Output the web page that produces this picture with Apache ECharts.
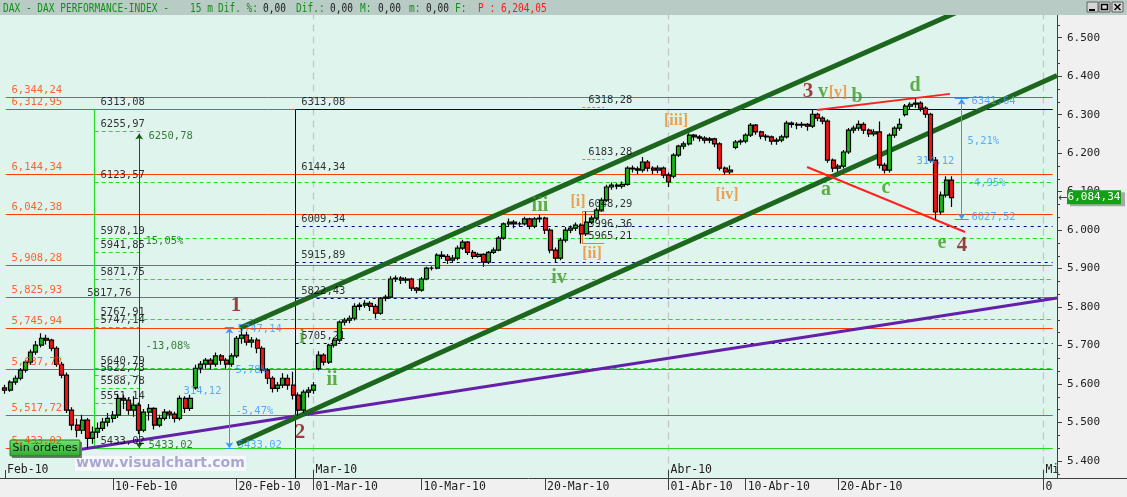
<!DOCTYPE html>
<html><head><meta charset="utf-8">
<script src="https://cdn.jsdelivr.net/npm/echarts@6/dist/echarts.min.js"></script>
<style>html,body{margin:0;padding:0;background:#f0f0f0;overflow:hidden}#c{width:1127px;height:497px}</style>
</head><body><div id="c"></div>
<script>
// ---------------- DATA ----------------
// 15-min DAX bars aggregated: 3 bars per trading day starting 01-Feb-10; [open, close, low, high]
const barsPerDay = 3;
const candles = [
[5590,5584,5575,5598],[5584,5605,5580,5610],[5605,5615,5598,5622],[5615,5636,5610,5642],[5636,5657,5630,5662],
[5657,5683,5650,5690],[5683,5701,5676,5712],[5701,5719,5695,5732],[5719,5714,5703,5728],[5714,5693,5685,5718],
[5693,5651,5645,5698],[5651,5623,5615,5658],[5623,5532,5525,5630],[5532,5493,5480,5540],[5493,5480,5462,5510],
[5480,5506,5470,5520],[5506,5459,5433,5512],[5459,5475,5445,5490],[5475,5485,5460,5500],[5485,5501,5478,5512],
[5501,5511,5490,5525],[5511,5519,5500,5530],[5519,5563,5512,5575],[5563,5558,5535,5572],[5558,5532,5520,5565],
[5532,5545,5515,5568],[5545,5480,5470,5552],[5480,5527,5475,5535],[5527,5537,5505,5548],[5537,5493,5482,5540],
[5493,5511,5488,5520],[5511,5527,5505,5535],[5527,5522,5510,5532],[5522,5511,5500,5528],[5511,5563,5505,5570],
[5563,5537,5525,5568],[5537,5563,5530,5572],[5590,5641,5585,5650],[5641,5652,5628,5660],[5652,5662,5640,5668],
[5662,5652,5638,5668],[5652,5673,5645,5682],[5673,5662,5650,5678],[5662,5652,5640,5668],[5652,5673,5645,5680],
[5673,5719,5668,5725],[5719,5727,5705,5747.14],[5727,5709,5700,5735],[5709,5714,5695,5722],[5714,5693,5680,5720],
[5693,5636,5628,5698],[5636,5615,5600,5642],[5615,5589,5578,5620],[5589,5597,5580,5605],[5597,5615,5590,5628],
[5615,5597,5585,5625],[5597,5571,5560,5632],[5571,5532,5517.72,5578],[5532,5579,5525,5585],[5579,5584,5565,5592],
[5584,5597,5575,5605],[5640,5675,5635,5685],[5675,5657,5648,5680],[5657,5701,5652,5705],[5701,5714,5695,5720],
[5714,5761,5708,5765],[5761,5766,5752,5772],[5766,5771,5758,5778],[5771,5802,5765,5810],[5802,5805,5792,5812],
[5805,5810,5798,5818],[5810,5802,5790,5815],[5802,5784,5770,5808],[5784,5823,5780,5826],[5823,5826,5815,5832],
[5826,5873,5822,5880],[5873,5875,5865,5882],[5875,5870,5860,5880],[5870,5873,5862,5878],[5873,5849,5842,5876],
[5849,5844,5836,5852],[5844,5873,5840,5878],[5873,5901,5870,5905],[5901,5901,5895,5906],[5901,5935,5898,5940],
[5935,5932,5925,5945],[5932,5922,5912,5938],[5922,5927,5915,5935],[5927,5953,5922,5960],[5953,5969,5948,5975],
[5969,5942,5935,5972],[5942,5932,5925,5948],[5932,5937,5928,5942],[5937,5917,5905,5940],[5917,5942,5912,5946],
[5942,5948,5938,5955],[5948,5979,5945,5985],[5979,6016,5975,6020],[6016,6021,6008,6030],[6021,6016,6005,6026],
[6016,6016,6008,6022],[6016,6029,6012,6035],[6029,6010,6002,6032],[6010,6029,6005,6034],[6029,6031,6020,6040],
[6031,6000,5990,6035],[6000,5948,5940,6005],[5948,5927,5915,5955],[5927,5974,5922,5980],[5974,6000,5968,6008],
[6000,6005,5992,6012],[6005,6013,5998,6020],[6013,5990,5965.21,6018],[5990,6021,5985,6048.29],[6021,6031,6015,6038],
[6031,6052,6025,6058],[6052,6078,6048,6084],[6078,6112,6074,6118],[6112,6117,6105,6124],[6117,6114,6106,6122],
[6114,6119,6108,6126],[6119,6161,6115,6166],[6161,6159,6150,6168],[6159,6156,6146,6165],[6156,6177,6150,6190],
[6177,6161,6152,6182],[6161,6156,6146,6166],[6156,6161,6148,6168],[6161,6143,6135,6165],[6143,6125,6112,6150],
[6140,6195,6135,6200],[6195,6218,6190,6222],[6218,6224,6210,6230],[6224,6247,6220,6252],[6247,6242,6232,6250],
[6242,6239,6230,6247],[6239,6234,6225,6244],[6234,6237,6226,6242],[6237,6224,6215,6240],[6224,6161,6155,6228],
[6161,6151,6144,6165],[6151,6156,6146,6168],[6215,6229,6210,6234],[6229,6231,6222,6236],[6231,6247,6226,6252],
[6247,6273,6242,6278],[6273,6255,6248,6276],[6255,6244,6236,6258],[6244,6242,6232,6250],[6242,6231,6222,6246],
[6231,6234,6222,6240],[6234,6242,6228,6248],[6242,6278,6238,6284],[6278,6275,6266,6282],[6275,6273,6262,6280],
[6273,6275,6266,6281],[6275,6270,6258,6278],[6270,6301,6265,6313.08],[6301,6291,6283,6305],[6291,6283,6275,6296],
[6283,6182,6175,6288],[6182,6161,6151,6186],[6161,6166,6152,6172],[6166,6203,6160,6208],[6203,6260,6198,6265],
[6260,6265,6252,6272],[6265,6275,6258,6285],[6275,6260,6250,6280],[6260,6250,6242,6264],[6250,6255,6244,6262],
[6255,6169,6160,6282],[6169,6156,6147,6175],[6156,6247,6150,6252],[6247,6265,6240,6270],[6265,6275,6258,6290],
[6300,6322,6295,6328],[6322,6327,6314,6332],[6327,6330,6318,6341.64],[6330,6317,6308,6335],[6317,6301,6292,6322],
[6301,6182,6175,6305],[6182,6047,6027.52,6190],[6047,6091,6040,6100],[6091,6130,6085,6140],[6130,6084.34,6060,6140]
];
const lastPrice = 6084.34;

// x axis = trading-day index from 01-Feb-10
const dayTicks = [7, 15, 20, 27, 35, 43, 48, 54, 67.3];
const dayTickLabels = ['10-Feb-10','20-Feb-10','01-Mar-10','10-Mar-10','20-Mar-10','01-Abr-10','10-Abr-10','20-Abr-10','0'];
const monthTicks = [0, 20, 43, 67.3];
const monthTickLabels = ['Feb-10','Mar-10','Abr-10','Mi'];

// horizontal levels
const orangeLevels = [6344.24, 6312.95, 6144.34, 6042.38, 5908.28, 5825.93, 5745.94, 5637.72, 5517.72, 5433.02];
const boxTop = 6313.08;
const boxLabels = [6313.08, 6144.34, 6009.34, 5915.89, 5822.43, 5705.21];
const boxDashed = [6009.34, 5915.89, 5822.43, 5705.21];
const greenTop = 6313.08;
const greenBase = 5433.02;
const greenFull = [6123.57, 5978.19, 5871.75, 5767.91, 5640.79];
const greenShort = [6255.97, 5941.85, 5747.14, 5622.73, 5588.78, 5551.14];
const leftLabels = [6313.08, 6255.97, 6123.57, 5978.19, 5941.85, 5871.75, 5767.91, 5747.14, 5640.79, 5622.73, 5588.78, 5551.14, 5433.02];
const leftExtraLabel = [5.3, 5817.76];
const fibLabels = [6318.28, 6183.28, 6048.29, 5996.36, 5965.21];
const fibDashed = [6318.28, 6183.28];
const fibBox = [5965.21, 6048.29];

// measurement bars [low, high]
const darkMeasure = [5433.02, 6250.78];
const blueMeasureL = [5433.02, 5747.14];
const blueMeasureR = [6027.52, 6341.64];

// trend lines [[day, price], [day, price]]
const channelUpper = [[15.23, 5745.6], [64, 6607]];
const channelLower = [[15.04, 5444], [68.18, 6401.8]];
const purpleLine = [[4.86, 5430], [68.18, 5823.5]];
const redUpper = [[52.62, 6312], [61.24, 6354]];
const redLower = [[51.98, 6164], [62.22, 5995]];

// texts [day, price, text]
const darkTexts = [[9.27, 6244.5, '6250,78'], [9.07, 5970, '15,05%'], [9.07, 5699, '-13,08%'], [9.27, 5441, '5433,02']];
const blueTexts = [[15.04, 5743, '5747,14'], [14.9, 5636, '5,78%'], [11.54, 5582, '314,12'], [14.9, 5530, '-5,47%'], [15.04, 5441, '5433,02'],
  [62.6, 6334, '6341,64'], [62.35, 6231, '5,21%'], [59.04, 6178, '314,12'], [62.35, 6123, '-4,95%'], [62.6, 6033, '6027,52']];
const degreeWaves = [[14.97, 5803, '1'], [19.12, 5475, '2'], [52.04, 6359, '3'], [62.02, 5959, '4']];
const minorWaves = [[53.01, 6359, 'v'], [55.22, 6346, 'b'], [58.98, 6374, 'd'], [53.21, 6104, 'a'], [57.1, 6109, 'c'], [60.73, 5966, 'e'],
  [34.67, 6062, 'iii'], [35.9, 5875, 'iv'], [21.19, 5610, 'ii'], [19.25, 5719, 'i']];
const subWaves = [[53.99, 6356, '[v]'], [37.14, 6073, '[i]'], [38.04, 5938, '[ii]'], [43.49, 6284, '[iii]'], [46.79, 6091, '[iv]']];

// ---------------- LAYOUT CONSTANTS ----------------
const X_MIN = -0.324, X_MAX = 68.18;
const L_D = 0.05, R_D = 67.9;
const GREEN_V = 5.81, GREEN_SHORT_END = 8.75, DARK_V = 8.70, BOX_V = 18.84, BLUE_L = 14.54, BLUE_R = 62.0;
const FIB_A = 37.41, FIB_B = 38.84;
const MONO = 'DejaVu Sans Mono';

// ---------------- HELPERS ----------------
function fmtLevel(v){ const [i,f] = v.toFixed(2).split('.'); return i.replace(/\B(?=(\d{3})+(?!\d))/g, ',') + ',' + f; }
function fmtPlain(v){ return v.toFixed(2).replace('.', ','); }
function fmtAxis(v){ return String(Math.round(v)).replace(/\B(?=(\d{3})+(?!\d))/g, '.'); }
function lookup(ticks, labels, v){ for (let i=0;i<ticks.length;i++) if (Math.abs(ticks[i]-v)<1e-6) return labels[i]; return ''; }
function hseg(v, a, b){ return {coords: [[a, v], [b, v]]}; }
function vseg(d, a, b){ return {coords: [[d, a], [d, b]]}; }
function linesSeries(data, style, extra){ return Object.assign({type:'lines', coordinateSystem:'cartesian2d', polyline:false, silent:true, z:2,
  lineStyle: Object.assign({opacity:1, curveness:0}, style), data: data}, extra || {}); }
function textSeries(items, labelStyle, z){ return {type:'scatter', silent:true, z: z || 8, symbol:'circle', symbolSize:1,
  itemStyle:{color:'rgba(0,0,0,0)'}, data: items.map(it => ({value:[it[0], it[1]], label:{formatter: it[2]}})),
  label: Object.assign({show:true, position:'right', distance:0}, labelStyle)}; }

const candleData = candles.map((c, i) => [i / barsPerDay, c[0], c[1], c[2], c[3]]);

const lvlFont = {fontFamily: MONO, fontSize: 10.5};
const series = [
  linesSeries(monthTicks.slice(1).map(m => vseg(m, 5300, 6600)), {color:'#c6c6c6', width:1.3, type:[7,5]}, {z:1}),
  linesSeries(orangeLevels.map(v => hseg(v, L_D, R_D)), {color:'#ff4000', width:1}),
  linesSeries([hseg(boxTop, BOX_V, R_D), vseg(BOX_V, 5300, boxTop)], {color:'#000070', width:1}),
  linesSeries(boxDashed.map(v => hseg(v, BOX_V, R_D)), {color:'#000070', width:1, type:[3,4]}),
  linesSeries(greenFull.map(v => hseg(v, GREEN_V, R_D)).concat(greenShort.map(v => hseg(v, GREEN_V, GREEN_SHORT_END))),
    {color:'#22dd22', width:1, type:[4,3]}),
  linesSeries([hseg(greenBase, GREEN_V, R_D), vseg(GREEN_V, greenBase, greenTop)], {color:'#22dd22', width:1.2}),
  linesSeries(fibDashed.map(v => hseg(v, FIB_A, FIB_B)), {color:'#ff7a1e', width:1, type:[3,2]}),
  linesSeries([hseg(fibBox[0], FIB_A, FIB_B), hseg(fibBox[1], FIB_A, FIB_B), vseg(FIB_A, fibBox[0], fibBox[1])], {color:'#ff7a1e', width:1}),
  linesSeries([{coords: purpleLine}], {color:'#6420a8', width:3}),
  linesSeries([{coords: channelUpper}, {coords: channelLower}], {color:'#1d661d', width:5}),
  linesSeries([{coords: redUpper}, {coords: redLower}], {color:'#ff2222', width:2}),
  linesSeries([vseg(DARK_V, darkMeasure[0], darkMeasure[1])], {color:'#0b5e0b', width:1}, {symbol:['arrow','arrow'], symbolSize:6}),
  linesSeries([vseg(BLUE_L, blueMeasureL[0], blueMeasureL[1]), vseg(BLUE_R, blueMeasureR[0], blueMeasureR[1])],
    {color:'#3399ff', width:1}, {symbol:['arrow','arrow'], symbolSize:6}),
  linesSeries([hseg(blueMeasureL[0], BLUE_L-0.3, BLUE_L+0.3), hseg(blueMeasureL[1], BLUE_L-0.3, BLUE_L+0.3),
    hseg(blueMeasureR[0], BLUE_R-0.45, BLUE_R+0.45), hseg(blueMeasureR[1], BLUE_R-0.45, BLUE_R+0.45)], {color:'#3399ff', width:1}),
  {type:'candlestick', z:3, silent:true, barWidth:4.5,
    dimensions:['d','open','close','lowest','highest'], encode:{x:0, y:[1,2,3,4]},
    itemStyle:{color:'#18b418', color0:'#f01414', borderColor:'#000000', borderColor0:'#000000', borderWidth:1.2},
    data: candleData},
  textSeries(orangeLevels.map(v => [0.39, v, fmtLevel(v)]), Object.assign({color:'#ff4000', offset:[0,-7]}, lvlFont)),
  textSeries(leftLabels.map(v => [6.16, v, fmtPlain(v)]).concat([[leftExtraLabel[0], leftExtraLabel[1], fmtPlain(leftExtraLabel[1])]]),
    Object.assign({color:'#000000', offset:[0,-7]}, lvlFont)),
  textSeries(boxLabels.map(v => [19.16, v, fmtPlain(v)]), Object.assign({color:'#000000', offset:[0,-7]}, lvlFont)),
  textSeries(fibLabels.map(v => [37.76, v, fmtPlain(v)]), Object.assign({color:'#000000', offset:[0,-7]}, lvlFont)),
  textSeries(darkTexts, Object.assign({color:'#0b5e0b'}, lvlFont)),
  textSeries(blueTexts, Object.assign({color:'#3399ff'}, lvlFont)),
  textSeries(degreeWaves, {position:'inside', color:'#8b1010', fontFamily:'Liberation Serif', fontWeight:'bold', fontSize:21}, 9),
  textSeries(minorWaves, {position:'inside', color:'#3c9a1e', fontFamily:'Liberation Serif', fontWeight:'bold', fontSize:20}, 9),
  textSeries(subWaves, {position:'inside', color:'#f08a2a', fontFamily:'Liberation Serif', fontWeight:'bold', fontSize:16}, 9)
];

const axisFont = {fontFamily: MONO, fontSize: 11.5, color:'#202020'};
const option = {
  animation:false,
  grid:{left:0, right:70, top:-0.8, bottom:-2.5, containLabel:false, outerBoundsMode:'none'},
  xAxis:[
    {type:'value', min:X_MIN, max:X_MAX, position:'bottom', offset:-21.5, z:10,
      axisLine:{show:true, onZero:false, lineStyle:{color:'#404040', width:1}},
      axisTick:{show:true, length:12, customValues: dayTicks, lineStyle:{color:'#404040'}},
      axisLabel:Object.assign({customValues: dayTicks, align:'left', margin:3, padding:[0,0,0,2],
        formatter: v => lookup(dayTicks, dayTickLabels, v)}, axisFont),
      splitLine:{show:false}},
    {type:'value', min:X_MIN, max:X_MAX, position:'bottom', offset:-21.5, z:10,
      axisLine:{show:false, onZero:false},
      axisTick:{show:true, inside:true, length:8, customValues: monthTicks, lineStyle:{color:'#404040'}},
      axisLabel:Object.assign({inside:true, customValues: monthTicks, align:'left', margin:2, padding:[0,0,0,2],
        formatter: v => lookup(monthTicks, monthTickLabels, v)}, axisFont),
      splitLine:{show:false}}
  ],
  yAxis:{type:'value', position:'right', min:5300, max:6600, interval:100, z:1,
    axisLine:{show:true, onZero:false, lineStyle:{color:'#404040'}},
    axisTick:{show:true, length:5, lineStyle:{color:'#404040'}},
    minorTick:{show:true, splitNumber:3, length:3, lineStyle:{color:'#404040'}},
    splitLine:{show:false}, minorSplitLine:{show:false},
    axisLabel:{margin:10, color:'#202020', fontFamily: MONO, fontSize:11, formatter: v => fmtAxis(v)}},
  series: series
};

const chart = echarts.init(document.getElementById('c'), null, {width:1127, height:497});
chart.setOption(option);

// ---------------- UI chrome (pixel) ----------------
const tagY = chart.convertToPixel({yAxisIndex:0}, lastPrice);
function hdr(x, text, fill){ return {type:'text', x:x, y:2, z:51, scaleX:0.76, style:{text:text, fill:fill, font:'12.5px "DejaVu Sans Mono"'}}; }
const G = '#119018', K = '#202020';
const graphic = [
  {type:'rect', z:-10, shape:{x:0, y:15, width:1057, height:463}, style:{fill:'#e0f4ee'}},
  {type:'rect', z:5, shape:{x:0, y:478.5, width:1127, height:19}, style:{fill:'#f0f0f0'}},
  {type:'line', z:10, shape:{x1:1057, y1:478.5, x2:1127, y2:478.5}, style:{stroke:'#404040', lineWidth:1}},
  {type:'rect', z:50, shape:{x:0, y:0, width:1127, height:15}, style:{fill:'#b8cbc4'}},
  hdr(3, 'DAX - DAX PERFORMANCE-INDEX -', G), hdr(190, '15 m', G), hdr(218, 'Dif. %:', G), hdr(263, '0,00', K),
  hdr(296, 'Dif.:', G), hdr(330, '0,00', K), hdr(360, 'M:', G), hdr(378, '0,00', K), hdr(409, 'm:', G), hdr(426, '0,00', K),
  hdr(455, 'F:', G), hdr(478, 'P : 6,204,05', '#ff1a1a'),
  {type:'rect', z:51, shape:{x:1087, y:2, width:11, height:10}, style:{fill:'#d6d6d6', stroke:'#606060', lineWidth:1}},
  {type:'rect', z:51, shape:{x:1099, y:2, width:11, height:10}, style:{fill:'#d6d6d6', stroke:'#606060', lineWidth:1}},
  {type:'rect', z:51, shape:{x:1112, y:2, width:11, height:10}, style:{fill:'#d6d6d6', stroke:'#606060', lineWidth:1}},
  {type:'line', z:52, shape:{x1:1089, y1:10, x2:1095, y2:10}, style:{stroke:'#000', lineWidth:2}},
  {type:'rect', z:52, shape:{x:1101.5, y:4.5, width:6, height:5}, style:{fill:'none', stroke:'#000', lineWidth:1.5}},
  {type:'line', z:52, shape:{x1:1114.5, y1:4, x2:1120.5, y2:10}, style:{stroke:'#000', lineWidth:1.5}},
  {type:'line', z:52, shape:{x1:1120.5, y1:4, x2:1114.5, y2:10}, style:{stroke:'#000', lineWidth:1.5}},
  {type:'rect', z:6, shape:{x:75, y:456, width:171, height:15}, style:{fill:'#f6f8fb'}},
  {type:'text', z:7, x:76, y:456, style:{text:'www.visualchart.com', fill:'#a8a9d0', font:'bold 14px "DejaVu Sans"'}},
  {type:'rect', z:6, shape:{x:12, y:442, width:70, height:16}, style:{fill:'#7a7a7a'}},
  {type:'rect', z:7, shape:{x:10, y:440, width:70, height:16, r:1},
    style:{fill:new echarts.graphic.LinearGradient(0,0,0,1,[{offset:0,color:'#74e474'},{offset:1,color:'#2ea82e'}]), stroke:'#1f7a1f', lineWidth:1}},
  {type:'text', z:8, x:45, y:448, style:{text:'Sin órdenes', fill:'#101010', font:'11px "DejaVu Sans"', align:'center', verticalAlign:'middle'}},
  {type:'text', z:12, x:1058, y:tagY, style:{text:'←', fill:'#404040', font:'11px "DejaVu Sans"', verticalAlign:'middle'}},
  {type:'rect', z:11, shape:{x:1070, y:tagY-5.5, width:55, height:14}, style:{fill:'#a8a8a8'}},
  {type:'rect', z:12, shape:{x:1067, y:tagY-7.5, width:54, height:14}, style:{fill:'#14a014'}},
  {type:'text', z:13, x:1094, y:tagY-0.5, style:{text:fmtLevel(lastPrice), fill:'#ffffff', font:'11px "DejaVu Sans Mono"', align:'center', verticalAlign:'middle'}}
];
chart.setOption({graphic: graphic});
</script>
</body></html>
